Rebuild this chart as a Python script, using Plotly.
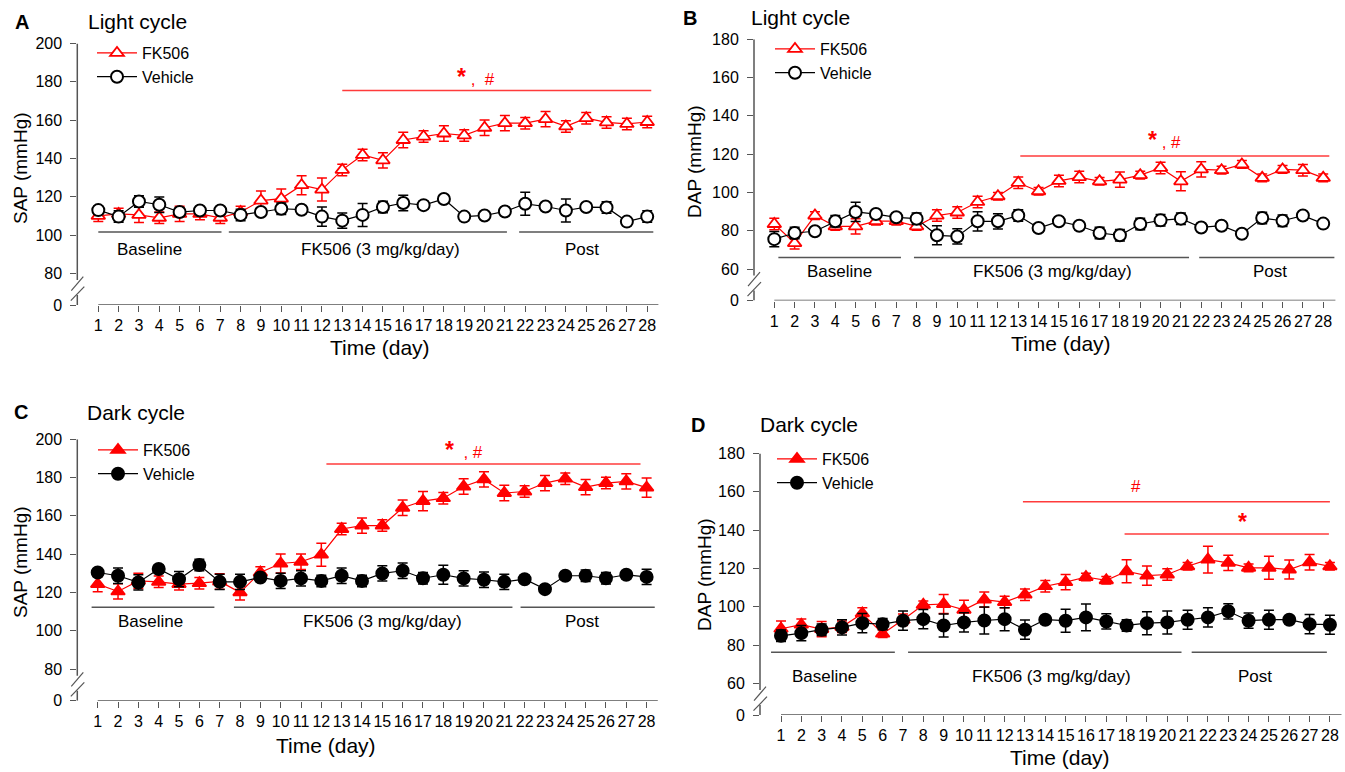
import plotly.graph_objects as go

# ---------------- data ----------------
days = list(range(1, 29))
day_labels = [str(d) for d in days]

# Panel A: SAP, light cycle
A_fk = [110, 111, 110.5, 109, 111, 111, 109, 112, 118, 119, 126, 123.7, 134, 141.8,
        139, 149.6, 151.4, 153, 152, 156, 158.4, 158.4, 160.5, 156.7, 161, 158.8, 158, 159]
A_fk_err = [3, 3, 4, 3, 4, 3, 3, 3, 5, 5, 5, 6, 3, 3, 4, 4, 3, 4, 3, 4, 4, 3, 4, 3, 3, 3, 3, 3]
A_veh = [113, 109.6, 117.5, 115.8, 112, 112.8, 112.8, 110.5, 112, 113.7, 113.2, 109.6, 107.5, 110.5,
         114.6, 116.7, 115.6, 118.8, 109.6, 110.2, 112.3, 116.3, 114.9, 112.8, 114.6, 114.4, 107, 109.6]
A_veh_err = [2, 3, 3, 4, 2, 2, 2, 3, 2, 3, 2, 5, 4, 6, 3, 4, 2, 2, 2, 2, 2, 6, 2, 6, 2, 3, 2, 3]

# Panel B: DAP, light cycle
B_fk = [83.5, 73.5, 87.9, 82.3, 82.3, 85, 85, 82.3, 87.9, 89.5, 95, 98, 105, 100.6,
        106, 108, 105.8, 106.7, 109, 112.8, 105.8, 112, 111.6, 114.6, 107.6, 112, 111.6, 107.6]
B_fk_err = [3, 3, 2, 2, 4, 2, 2, 2, 3, 3, 3, 2, 3, 2, 3, 3, 2, 4, 2, 3, 5, 4, 2, 2, 2, 2, 3, 2]
B_veh = [75.6, 78.8, 79.7, 84.9, 89.8, 88.7, 87, 86.3, 77.6, 77, 84.9, 84.9, 87.9, 81.4,
         84.9, 82.6, 78.8, 77.6, 83.5, 85.4, 86.3, 81.7, 82.6, 78.4, 86.6, 85.2, 87.9, 83.7]
B_veh_err = [4, 3, 2, 3, 5, 2, 2, 3, 5, 4, 5, 4, 3, 2, 2, 2, 3, 3, 3, 3, 3, 2, 2, 2, 3, 3, 2, 2]

# Panel C: SAP, dark cycle
C_fk = [124.3, 120.5, 126, 125.5, 124.3, 124.8, 125.7, 120, 130.4, 135.1, 136, 139.7, 153.1, 154.9,
        154.9, 164.2, 167.7, 169.2, 175.3, 179, 171.9, 172.7, 177.1, 179.4, 175, 177.1, 178, 174.7]
C_fk_err = [4, 4, 4, 3, 3, 3, 4, 4, 3, 5, 4, 6, 3, 4, 3, 4, 5, 3, 4, 4, 4, 3, 4, 3, 4, 3, 4, 5]
C_veh = [130.4, 128.7, 125.2, 132.2, 126.9, 134.3, 125.5, 125.5, 127.8, 126, 127.3, 126, 128.7, 126,
         129.9, 131.3, 127.4, 129.2, 127.3, 126.6, 125.5, 126.9, 121.7, 128.7, 128.7, 127.4, 129.2, 128.1]
C_veh_err = [2, 4, 4, 2, 4, 3, 4, 4, 2, 4, 4, 3, 4, 3, 4, 4, 3, 5, 4, 4, 4, 2, 2, 2, 3, 3, 2, 4]

# Panel D: DAP, dark cycle
D_fk = [88.5, 90.6, 88.3, 89.5, 96.5, 85.9, 93.2, 101, 101.4, 98.4, 103.7, 102.4, 106.3, 110.7,
        112.8, 115.5, 113.8, 118.5, 116.2, 116.8, 121.1, 124.6, 122.9, 120.3, 120.3, 119.4, 123.2, 121.1]
D_fk_err = [4, 3, 4, 3, 3, 2, 3, 2, 5, 5, 4, 3, 3, 3, 4, 2, 2, 6, 5, 3, 2, 7, 4, 2, 6, 5, 4, 2]
D_veh = [84.8, 86.2, 88, 89.2, 91.4, 90.9, 92.7, 93.5, 90.2, 91.8, 92.8, 93.5, 88, 93.2,
         92.7, 94.4, 92.3, 90.2, 91.4, 91.8, 93.2, 94.4, 97.6, 92.7, 93.2, 93.2, 90.9, 90.6]
D_veh_err = [3, 4, 3, 4, 5, 3, 5, 5, 6, 5, 7, 6, 5, 2, 6, 7, 4, 3, 6, 6, 5, 5, 4, 4, 5, 2, 5, 5]

series_names = ["FK506", "Vehicle"]
phase_names = ["Baseline", "FK506 (3 mg/kg/day)", "Post"]

# ---------------- layout geometry ----------------
W, H = 1345, 772
PXU = 1.915   # px per mmHg
SP = 20.33    # px per day

RED = "#ff0000"
SIGRED = "#ff3b3b"
BLACK = "#000000"
AXC = "#555555"
PHC = "#555555"
FONT = "Liberation Sans, Arial, sans-serif"
NARROW = "Liberation Sans Narrow, Arial Narrow, Liberation Sans, Arial, sans-serif"

STAR = "<span style='font-size:23px'><b>*</b></span>"
SIG_BOTH_A = STAR + "&nbsp;,&nbsp; #"
SIG_BOTH_B = STAR + " , #"
SIG_BOTH_C = STAR + "&nbsp;&nbsp;, #"

panels = [
    dict(sfx="", leg="legend", letter="A", cycle="Light cycle", ylab="SAP (mmHg)",
         left=77.3, right=665, day1=98.3, top_px=43.5, top=200, zero_px=305, low=80, xend=28.55,
         fk=A_fk, fk_err=A_fk_err, veh=A_veh, veh_err=A_veh_err, filled=False,
         letter_xy=(22, 22), cycle_xy=(86, 22), ylab_xy=(20, 168), xlab_xy=(380, 347),
         leg_xy=(92, 36),
         phase_y=101.6, phase_lab_y=92.5,
         phases=[(1.0, 7.06, 3.54), (7.42, 21.1, 14.9), (21.7, 28.3, 24.8)],
         sig=[(13.0, 28.2, 175.4, 19.6, 182.4, SIG_BOTH_A)]),
    dict(sfx="2", leg="legend2", letter="B", cycle="Light cycle", ylab="DAP (mmHg)",
         left=754, right=1340, day1=774.3, top_px=39.2, top=180, zero_px=300.5, low=60, xend=28.6,
         fk=B_fk, fk_err=B_fk_err, veh=B_veh, veh_err=B_veh_err, filled=False,
         letter_xy=(690, 18), cycle_xy=(749, 18), ylab_xy=(695, 162), xlab_xy=(1061, 343),
         leg_xy=(770, 32),
         phase_y=66.0, phase_lab_y=58.6,
         phases=[(1.2, 7.23, 4.2), (7.87, 21.4, 14.7), (21.9, 28.55, 25.4)],
         sig=[(13.1, 28.3, 119.0, 20.2, 127.3, SIG_BOTH_B)]),
    dict(sfx="3", leg="legend3", letter="C", cycle="Dark cycle", ylab="SAP (mmHg)",
         left=77.3, right=665, day1=97.7, top_px=439.2, top=200, zero_px=700.7, low=80, xend=28.55,
         fk=C_fk, fk_err=C_fk_err, veh=C_veh, veh_err=C_veh_err, filled=True,
         letter_xy=(21, 412), cycle_xy=(85, 412), ylab_xy=(20, 562), xlab_xy=(326, 745),
         leg_xy=(93, 433),
         phase_y=112.2, phase_lab_y=104.7,
         phases=[(0.7, 6.74, 3.6), (7.7, 21.4, 15.0), (21.8, 28.4, 24.8)],
         sig=[(12.25, 27.7, 187.0, 19.0, 194.4, SIG_BOTH_C)]),
    dict(sfx="4", leg="legend4", letter="D", cycle="Dark cycle", ylab="DAP (mmHg)",
         left=760, right=1344, day1=781, top_px=453.5, top=180, zero_px=715, low=60, xend=28.57,
         fk=D_fk, fk_err=D_fk_err, veh=D_veh, veh_err=D_veh_err, filled=True,
         letter_xy=(698, 425), cycle_xy=(758, 425), ylab_xy=(704, 575), xlab_xy=(1060, 757),
         leg_xy=(772, 442),
         phase_y=76.2, phase_lab_y=63.4,
         phases=[(0.51, 6.6, 3.13), (7.25, 20.7, 14.3), (21.2, 27.85, 24.3)],
         sig=[(12.9, 28.0, 154.8, 18.45, 162.7, "#"),
              (17.9, 27.95, 138.0, 23.7, 144.4, STAR)]),
]

fig = go.Figure()
shapes = []
annotations = []
layout = dict(width=W, height=H, margin=dict(l=0, r=0, t=0, b=0, autoexpand=False),
              paper_bgcolor="white", plot_bgcolor="white", showlegend=True)

for p in panels:
    xa = "x" + p["sfx"]
    ya = "y" + p["sfx"]
    v0 = p["top"] - (p["zero_px"] - p["top_px"]) / PXU
    xmin = 1 - (p["day1"] - p["left"]) / SP
    xmax = 1 + (p["right"] - p["day1"]) / SP
    dw = p["right"] - p["left"]

    # traces
    if p["filled"]:
        fk_sym, fk_fill, veh_sym, veh_fill = "triangle-up", RED, "circle", BLACK
    else:
        fk_sym, fk_fill, veh_sym, veh_fill = "triangle-up", "white", "circle", "white"
    fig.add_trace(go.Scatter(
        x=days, y=p["fk"], name=series_names[0], mode="lines+markers",
        line=dict(color=RED, width=1.2),
        marker=dict(symbol=fk_sym, size=12, color=fk_fill, line=dict(color=RED, width=1.8)),
        error_y=dict(type="data", array=p["fk_err"], color=RED, thickness=1.5, width=5),
        xaxis=xa, yaxis=ya, legend=p["leg"], cliponaxis=False))
    fig.add_trace(go.Scatter(
        x=days, y=p["veh"], name=series_names[1], mode="lines+markers",
        line=dict(color=BLACK, width=1.2),
        marker=dict(symbol=veh_sym, size=12, color=veh_fill, line=dict(color=BLACK, width=2)),
        error_y=dict(type="data", array=p["veh_err"], color=BLACK, thickness=1.5, width=5),
        xaxis=xa, yaxis=ya, legend=p["leg"], cliponaxis=False))

    # axes
    tv = [v0] + list(range(p["low"], p["top"] + 1, 20))
    tt = ["0"] + [str(v) for v in range(p["low"], p["top"] + 1, 20)]
    layout["xaxis" + p["sfx"]] = dict(
        domain=[p["left"] / W, p["right"] / W], range=[xmin, xmax], anchor=ya,
        showline=False, showgrid=False, zeroline=False,
        ticks="outside", ticklen=6, tickwidth=1, tickcolor=AXC,
        tickvals=days, ticktext=day_labels, tickangle=0,
        tickfont=dict(family=NARROW, size=16, color=BLACK), fixedrange=True)
    layout["yaxis" + p["sfx"]] = dict(
        domain=[1 - p["zero_px"] / H, 1 - p["top_px"] / H], range=[v0, p["top"]], anchor=xa,
        showline=False, showgrid=False, zeroline=False,
        ticks="outside", ticklen=6, tickwidth=1, tickcolor=AXC,
        tickvals=tv, ticktext=tt, ticklabelstandoff=5,
        tickfont=dict(family=FONT, size=16, color=BLACK), fixedrange=True)

    # y axis line with break
    xd = xa + " domain"
    shapes.append(dict(type="line", xref=xd, yref=ya, x0=0, x1=0, y0=p["top"], y1=v0 + 25 / PXU,
                       line=dict(color=AXC, width=1.5)))
    shapes.append(dict(type="line", xref=xd, yref=ya, x0=0, x1=0, y0=v0, y1=v0 + 10 / PXU,
                       line=dict(color=AXC, width=1.5)))
    shapes.append(dict(type="line", xref=xd, yref=ya, x0=-6 / dw, x1=6 / dw,
                       y0=v0 + 14.3 / PXU, y1=v0 + 28.3 / PXU, line=dict(color=AXC, width=1.2)))
    shapes.append(dict(type="line", xref=xd, yref=ya, x0=-6.5 / dw, x1=7 / dw,
                       y0=v0 + 4.3 / PXU, y1=v0 + 18.3 / PXU, line=dict(color=AXC, width=1.2)))
    # x axis line
    shapes.append(dict(type="line", xref=xa, yref=ya, x0=1, x1=p["xend"], y0=v0, y1=v0,
                       line=dict(color=AXC, width=1.5)))

    # phase lines and labels
    for (a, b, c), nm in zip(p["phases"], phase_names):
        shapes.append(dict(type="line", xref=xa, yref=ya, x0=a, x1=b, y0=p["phase_y"], y1=p["phase_y"],
                           line=dict(color=PHC, width=1.5)))
        annotations.append(dict(xref=xa, yref=ya, x=c, y=p["phase_lab_y"], text=nm, showarrow=False,
                                font=dict(family=FONT, size=17, color=BLACK)))

    # significance lines
    for (a, b, yl, xt, yt, txt) in p["sig"]:
        shapes.append(dict(type="line", xref=xa, yref=ya, x0=a, x1=b, y0=yl, y1=yl,
                           line=dict(color=SIGRED, width=1.5)))
        annotations.append(dict(xref=xa, yref=ya, x=xt, y=yt, text=txt, showarrow=False,
                                font=dict(family=FONT, size=17, color=RED)))

    # titles
    lx, ly = p["letter_xy"]
    annotations.append(dict(xref="paper", yref="paper", x=lx / W, y=1 - ly / H, text="<b>%s</b>" % p["letter"],
                            showarrow=False, xanchor="center", yanchor="middle",
                            font=dict(family=FONT, size=20, color=BLACK)))
    cx, cy = p["cycle_xy"]
    annotations.append(dict(xref="paper", yref="paper", x=cx / W, y=1 - cy / H, text=p["cycle"],
                            showarrow=False, xanchor="left", yanchor="middle",
                            font=dict(family=FONT, size=21, color=BLACK)))
    yx, yy = p["ylab_xy"]
    annotations.append(dict(xref="paper", yref="paper", x=yx / W, y=1 - yy / H, text=p["ylab"],
                            showarrow=False, xanchor="center", yanchor="middle", textangle=-90,
                            font=dict(family=FONT, size=19, color=BLACK)))
    tx, ty = p["xlab_xy"]
    annotations.append(dict(xref="paper", yref="paper", x=tx / W, y=1 - ty / H, text="Time (day)",
                            showarrow=False, xanchor="center", yanchor="middle",
                            font=dict(family=FONT, size=21, color=BLACK)))

    # legend
    gx, gy = p["leg_xy"]
    layout[p["leg"]] = dict(x=gx / W, y=1 - gy / H, xanchor="left", yanchor="top",
                            bgcolor="rgba(0,0,0,0)", borderwidth=0, tracegroupgap=0,
                            itemwidth=40,
                            font=dict(family=FONT, size=16, color=BLACK))

layout["shapes"] = shapes
layout["annotations"] = annotations
fig.update_layout(**layout)
fig.write_html("out.html", config={"displayModeBar": False},
               post_script="document.body.style.margin='0px';document.body.style.overflow='hidden';")
